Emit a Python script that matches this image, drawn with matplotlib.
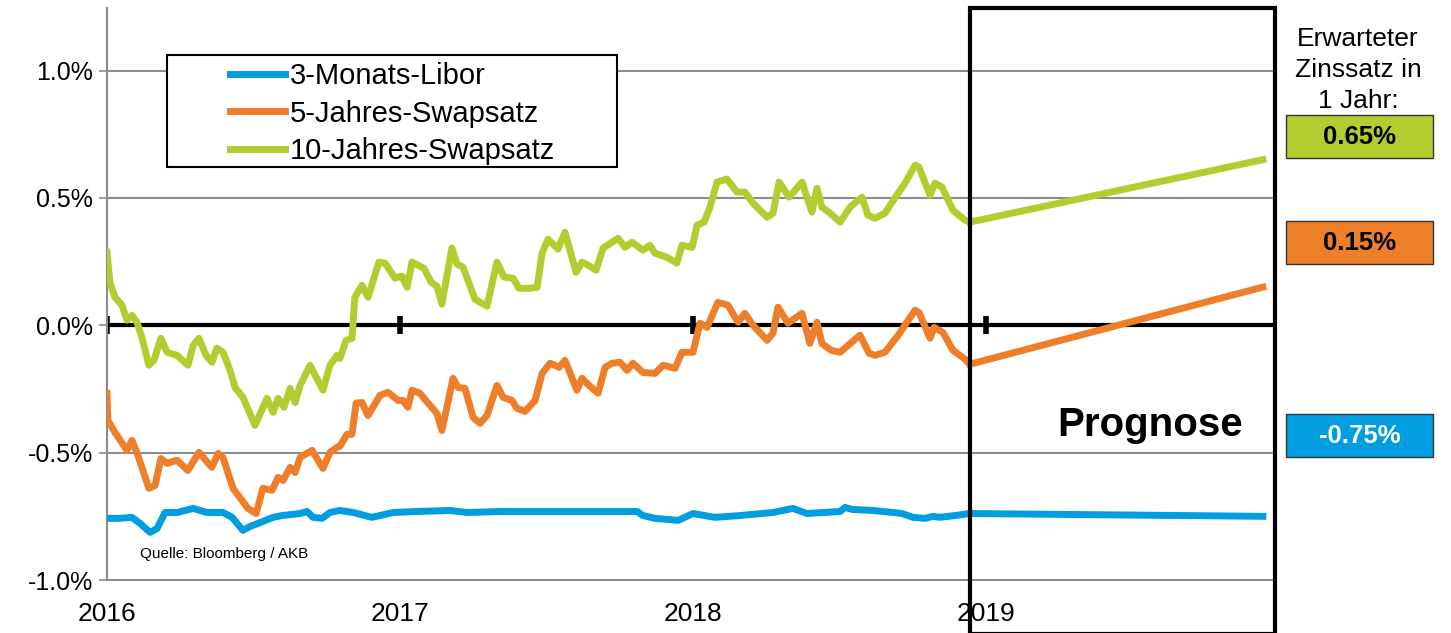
import numpy as np
import matplotlib.pyplot as plt
from matplotlib.patches import Rectangle

plt.rcParams['font.family'] = ['Liberation Sans', 'DejaVu Sans']

# 10-Jahres-Swapsatz (Jahr, %)
t_10j = [2016.000, 2016.010, 2016.027, 2016.051, 2016.068, 2016.085, 2016.102, 2016.119,
         2016.143, 2016.160, 2016.184, 2016.205, 2016.239, 2016.276, 2016.294, 2016.314,
         2016.338, 2016.358, 2016.375, 2016.396, 2016.420, 2016.437, 2016.464, 2016.505,
         2016.546, 2016.567, 2016.584, 2016.604, 2016.625, 2016.642, 2016.659, 2016.693,
         2016.737, 2016.761, 2016.785, 2016.795, 2016.816, 2016.836, 2016.846, 2016.870,
         2016.891, 2016.928, 2016.949, 2016.983, 2017.007, 2017.024, 2017.041, 2017.082,
         2017.106, 2017.126, 2017.143, 2017.177, 2017.195, 2017.215, 2017.256, 2017.297,
         2017.331, 2017.355, 2017.386, 2017.406, 2017.440, 2017.468, 2017.485, 2017.505,
         2017.539, 2017.563, 2017.601, 2017.621, 2017.642, 2017.669, 2017.693, 2017.724,
         2017.744, 2017.768, 2017.792, 2017.829, 2017.853, 2017.870, 2017.911, 2017.945,
         2017.962, 2017.997, 2018.014, 2018.038, 2018.058, 2018.082, 2018.116, 2018.150,
         2018.177, 2018.205, 2018.253, 2018.273, 2018.294, 2018.328, 2018.372, 2018.406,
         2018.423, 2018.440, 2018.468, 2018.502, 2018.536, 2018.577, 2018.597, 2018.621,
         2018.655, 2018.693, 2018.724, 2018.758, 2018.771, 2018.809, 2018.826, 2018.850,
         2018.887, 2018.928, 2018.945]
v_10j = [0.287, 0.169, 0.110, 0.079, 0.020, 0.039, 0.012, -0.047,
         -0.157, -0.138, -0.051, -0.106, -0.118, -0.157, -0.079, -0.051,
         -0.118, -0.145, -0.090, -0.106, -0.177, -0.244, -0.283, -0.393,
         -0.287, -0.342, -0.287, -0.322, -0.248, -0.303, -0.236, -0.157,
         -0.255, -0.157, -0.118, -0.130, -0.059, -0.051, 0.110, 0.157,
         0.110, 0.248, 0.244, 0.185, 0.193, 0.149, 0.248, 0.224,
         0.169, 0.153, 0.083, 0.303, 0.240, 0.228, 0.102, 0.075,
         0.248, 0.189, 0.185, 0.145, 0.145, 0.149, 0.283, 0.338,
         0.299, 0.365, 0.208, 0.248, 0.236, 0.216, 0.303, 0.326,
         0.342, 0.306, 0.326, 0.295, 0.314, 0.283, 0.267, 0.244,
         0.314, 0.306, 0.393, 0.405, 0.464, 0.562, 0.574, 0.523,
         0.523, 0.479, 0.424, 0.440, 0.562, 0.503, 0.562, 0.444,
         0.538, 0.464, 0.440, 0.405, 0.464, 0.503, 0.432, 0.420,
         0.440, 0.507, 0.558, 0.629, 0.621, 0.511, 0.558, 0.542,
         0.452, 0.413, 0.405]

# 5-Jahres-Swapsatz
t_5j = [2016.000, 2016.003, 2016.027, 2016.068, 2016.085, 2016.102, 2016.143, 2016.164,
        2016.184, 2016.205, 2016.239, 2016.276, 2016.314, 2016.358, 2016.379, 2016.396,
        2016.430, 2016.461, 2016.481, 2016.509, 2016.532, 2016.563, 2016.584, 2016.601,
        2016.625, 2016.642, 2016.659, 2016.700, 2016.737, 2016.761, 2016.785, 2016.795,
        2016.819, 2016.836, 2016.850, 2016.870, 2016.891, 2016.932, 2016.959, 2016.993,
        2017.010, 2017.027, 2017.041, 2017.068, 2017.096, 2017.126, 2017.143, 2017.181,
        2017.198, 2017.222, 2017.249, 2017.273, 2017.297, 2017.331, 2017.352, 2017.382,
        2017.399, 2017.427, 2017.461, 2017.485, 2017.512, 2017.543, 2017.563, 2017.604,
        2017.621, 2017.645, 2017.676, 2017.700, 2017.724, 2017.751, 2017.775, 2017.795,
        2017.829, 2017.870, 2017.898, 2017.939, 2017.962, 2018.000, 2018.024, 2018.048,
        2018.085, 2018.119, 2018.154, 2018.177, 2018.205, 2018.253, 2018.273, 2018.290,
        2018.324, 2018.372, 2018.399, 2018.423, 2018.440, 2018.471, 2018.502, 2018.529,
        2018.570, 2018.601, 2018.621, 2018.655, 2018.703, 2018.730, 2018.758, 2018.771,
        2018.809, 2018.823, 2018.853, 2018.887, 2018.925, 2018.945]
v_5j = [-0.267, -0.373, -0.420, -0.491, -0.452, -0.499, -0.640, -0.629,
        -0.523, -0.542, -0.530, -0.570, -0.499, -0.558, -0.503, -0.519,
        -0.640, -0.688, -0.719, -0.739, -0.640, -0.648, -0.597, -0.609,
        -0.558, -0.578, -0.519, -0.491, -0.562, -0.499, -0.479, -0.475,
        -0.428, -0.428, -0.306, -0.303, -0.354, -0.275, -0.263, -0.295,
        -0.295, -0.322, -0.255, -0.267, -0.306, -0.346, -0.413, -0.208,
        -0.244, -0.248, -0.361, -0.385, -0.354, -0.236, -0.283, -0.295,
        -0.326, -0.338, -0.295, -0.189, -0.149, -0.165, -0.138, -0.255,
        -0.208, -0.236, -0.267, -0.165, -0.149, -0.145, -0.177, -0.149,
        -0.185, -0.189, -0.157, -0.169, -0.106, -0.106, 0.008, -0.008,
        0.090, 0.079, 0.012, 0.047, 0.000, -0.059, -0.031, 0.071,
        0.008, 0.047, -0.071, 0.012, -0.071, -0.098, -0.106, -0.079,
        -0.039, -0.110, -0.118, -0.106, -0.035, 0.012, 0.059, 0.051,
        -0.051, -0.008, -0.028, -0.098, -0.130, -0.153]

# 3-Monats-Libor
t_3m = [2016.000, 2016.044, 2016.085, 2016.113, 2016.147, 2016.171, 2016.198, 2016.239,
        2016.294, 2016.341, 2016.396, 2016.427, 2016.464, 2016.488, 2016.515, 2016.567,
        2016.597, 2016.659, 2016.683, 2016.703, 2016.734, 2016.761, 2016.795, 2016.840,
        2016.904, 2016.932, 2016.976, 2017.058, 2017.171, 2017.229, 2017.341, 2017.590,
        2017.809, 2017.829, 2017.870, 2017.949, 2018.000, 2018.075, 2018.160, 2018.273,
        2018.341, 2018.389, 2018.502, 2018.519, 2018.543, 2018.614, 2018.683, 2018.713,
        2018.751, 2018.792, 2018.819, 2018.843, 2018.894, 2018.945]
v_3m = [-0.758, -0.758, -0.754, -0.778, -0.813, -0.798, -0.735, -0.735,
        -0.719, -0.735, -0.735, -0.754, -0.805, -0.790, -0.778, -0.754,
        -0.747, -0.739, -0.731, -0.754, -0.758, -0.735, -0.727, -0.735,
        -0.754, -0.747, -0.735, -0.731, -0.727, -0.735, -0.731, -0.731,
        -0.731, -0.747, -0.758, -0.766, -0.739, -0.754, -0.747, -0.735,
        -0.719, -0.739, -0.731, -0.715, -0.723, -0.727, -0.735, -0.739,
        -0.754, -0.758, -0.750, -0.754, -0.747, -0.739]

# Prognose: erwarteter Zinssatz in 1 Jahr
t_prog_end = 2019.945
prog_10j = 0.65
prog_5j = 0.15
prog_3m = -0.75

labels = ["3-Monats-Libor", "5-Jahres-Swapsatz", "10-Jahres-Swapsatz"]
colors = ["#009ee0", "#ee7f2a", "#b5cc31"]
years = [2016, 2017, 2018, 2019]
y_ticks = [-1.0, -0.5, 0.0, 0.5, 1.0]


def px_x(px):
    return 2016 + (px - 107) / 293


def px_y(py):
    return (325 - py) / 254.5


fig = plt.figure(figsize=(14.51, 6.33), dpi=100)
ax = fig.add_axes([107 / 1451, 1 - 580 / 633, (1275 - 107) / 1451, (580 - 8) / 633])
x_max = px_x(1275)
y_max = px_y(8)
ax.set_xlim(2016, x_max)
ax.set_ylim(-1.0, y_max)

for y in [-0.5, 0.5, 1.0]:
    ax.axhline(y, color="#8c8c8c", lw=1.5, zorder=1)

series = [(t_3m, v_3m, prog_3m), (t_5j, v_5j, prog_5j), (t_10j, v_10j, prog_10j)]
for (t, v, p), lab, col in zip(series, labels, colors):
    ax.plot(t, v, color=col, lw=5, label=lab, solid_joinstyle="round", zorder=3)
    ax.plot([t[-1], t_prog_end], [v[-1], p], color=col, lw=5, zorder=3)

# Nulllinie mit Jahresmarken
ax.plot([2016, px_x(1272)], [0, 0], color="black", lw=3, zorder=2)
ax.plot(years, [0] * len(years), ls="none", marker="|", ms=13, mew=4,
        color="black", zorder=2)

ax.set_yticks(y_ticks)
ax.set_yticklabels([f"{y:.1f}%" for y in y_ticks], fontsize=18)
ax.set_xticks(years)
ax.set_xticklabels([str(y) for y in years], fontsize=19)
ax.tick_params(axis="y", length=6, width=1.2, color="#8c8c8c", pad=4)
ax.tick_params(axis="x", length=0, pad=16)
for s in ["top", "right"]:
    ax.spines[s].set_visible(False)
for s in ["left", "bottom"]:
    ax.spines[s].set_color("#8c8c8c")
    ax.spines[s].set_linewidth(1.5)

# Legende mit eigenem Rahmen
ax.add_patch(Rectangle((px_x(167), px_y(167)), px_x(617) - px_x(167), px_y(55) - px_y(167),
                       facecolor="white", edgecolor="black", lw=1.5, zorder=4))
leg = ax.legend(loc="upper left", bbox_to_anchor=(px_x(230), px_y(62)),
                bbox_transform=ax.transData, fontsize=21, frameon=False,
                handlelength=1.9, borderpad=0, labelspacing=0.33, borderaxespad=0,
                handletextpad=0.15)
leg.set_zorder(5)
for line in leg.get_lines():
    line.set_linewidth(5)

# Prognose-Kasten
box = Rectangle((px_x(970), px_y(633)), px_x(1275) - px_x(970), y_max - px_y(633),
                fill=False, edgecolor="black", lw=3, clip_on=False, zorder=5)
ax.add_patch(box)
ax.text(px_x(1150), px_y(425), "Prognose",
        fontsize=29, fontweight="bold", ha="center", va="center")
ax.text(px_x(140), px_y(554), "Quelle: Bloomberg / AKB",
        fontsize=11, ha="left", va="center")

fig.text(1358 / 1451, 1 - 70 / 633, "Erwarteter\nZinssatz in\n1 Jahr:",
         fontsize=19, ha="center", va="center", linespacing=1.35)
box_vals = [prog_10j, prog_5j, prog_3m]
box_cols = [colors[2], colors[1], colors[0]]
box_top = [115, 221, 414]
for val, col, top in zip(box_vals, box_cols, box_top):
    fig.patches.append(Rectangle((1286 / 1451, 1 - (top + 43) / 633), 147 / 1451, 43 / 633,
                                 transform=fig.transFigure, facecolor=col,
                                 edgecolor="#333333", lw=1))
    txt_col = "white" if val < 0 else "black"
    fig.text(1359.5 / 1451, 1 - (top + 22) / 633, f"{val:.2f}%", fontsize=18.5,
             fontweight="bold", color=txt_col, ha="center", va="center")

fig.savefig("out.png", dpi=100)
